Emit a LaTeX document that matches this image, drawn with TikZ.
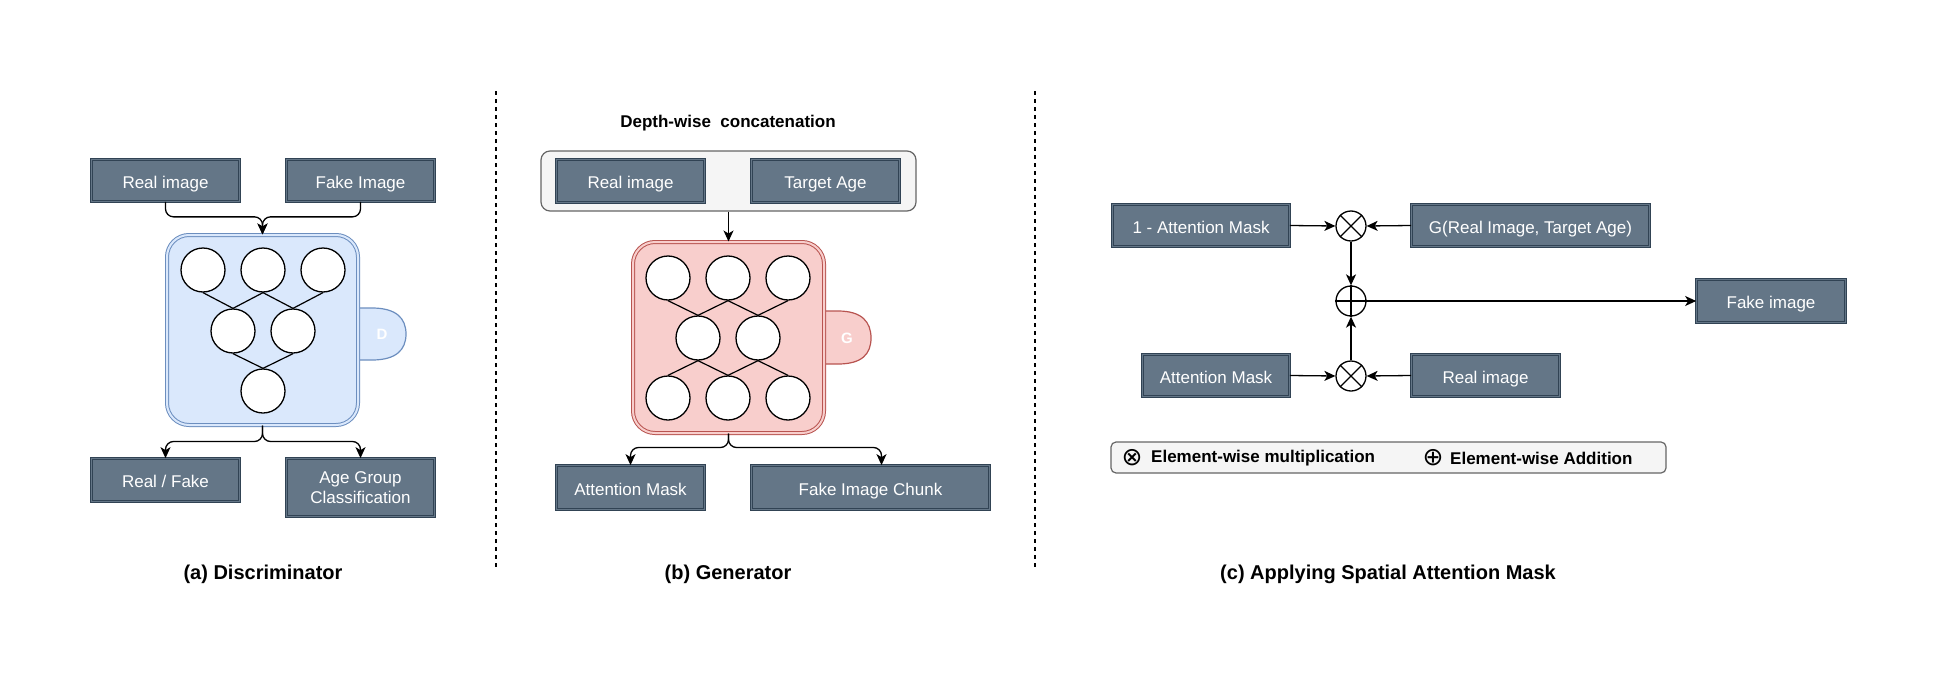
\documentclass[tikz,border=0pt]{standalone}
\usepackage{fontspec}
\setmainfont{Liberation Sans}
\newfontfamily\dejavu{DejaVu Sans}
\usetikzlibrary{arrows.meta,calc}
\definecolor{boxfill}{HTML}{647687}
\definecolor{boxline}{HTML}{314354}
\definecolor{bluefill}{HTML}{DAE8FC}
\definecolor{blueline}{HTML}{6C8EBF}
\definecolor{redfill}{HTML}{F8CECC}
\definecolor{redline}{HTML}{B85450}
\definecolor{grayfill}{HTML}{F5F5F5}
\definecolor{grayline}{HTML}{666666}
\newcommand{\boxfont}{\fontsize{17}{20.5}\selectfont}
\newcommand{\titlefont}{\fontsize{20}{24}\selectfont\bfseries}
\tikzset{
  boxbase/.style={draw=boxline, double=boxfill, fill=boxfill, line width=0.9pt,
    double distance=1.4pt, text=white, font=\boxfont, inner sep=0pt, align=center},
  box/.style 2 args={boxbase, minimum width=#1pt-3.2pt, minimum height=#2pt-3.2pt,
    text height=16pt, text depth=1pt},
  boxtwo/.style 2 args={boxbase, minimum width=#1pt-3.2pt, minimum height=#2pt-3.2pt},
  neuron/.style={circle, draw=black, fill=white, line width=1.3pt, minimum size=44pt, inner sep=0pt},
  link/.style={line width=1.2pt, draw=black},
  arr/.style={line width=1.3pt, draw=black, -{Stealth[length=11pt,width=10pt,inset=3pt]}},
  opnode/.style={circle, draw=black, fill=white, line width=1.3pt, minimum size=30pt, inner sep=0pt},
  sepline/.style={line width=1.3pt, dash pattern=on 4pt off 4pt},
  tablabel/.style={text=white, font=\fontsize{15}{18}\selectfont\bfseries},
  legtext/.style={anchor=west, inner sep=0pt, font=\fontsize{17}{20}\selectfont\bfseries},
  legsym/.style={inner sep=0pt, font=\dejavu\fontsize{25}{26}\selectfont},
  container/.style 2 args={draw=#1, double=#2, fill=#2, line width=1pt, double distance=2pt, rounded corners=22pt},
}
\begin{document}
\begin{tikzpicture}[x=1pt,y=-1pt]
\useasboundingbox[fill=white] (0,0) rectangle (1937,677);

% separators
\coordinate (s1a) at (496,91); \coordinate (s1b) at (496,570);
\coordinate (s2a) at (1035,91); \coordinate (s2b) at (1035,570);
\draw[sepline] (s1a) -- (s1b);
\draw[sepline] (s2a) -- (s2b);

% ---------------- (a) Discriminator ----------------
\draw[draw=blueline, fill=bluefill, line width=1.2pt]
  (350,308) -- (372,308) .. controls (396,308) and (406,318) .. (406,334)
  .. controls (406,350) and (396,360) .. (372,360) -- (350,360);
\node[tablabel] (dlab) at (382,334) {D};
\node[container={blueline}{bluefill}, minimum width=191pt, minimum height=190pt] (D) at (262.5,330) {};

\node[neuron] (d1) at (203,270) {};
\node[neuron] (d2) at (263,270) {};
\node[neuron] (d3) at (323,270) {};
\node[neuron] (d4) at (233,331) {};
\node[neuron] (d5) at (293,331) {};
\node[neuron] (d6) at (263,391) {};
\draw[link] (d1.south) -- (d4.north);
\draw[link] (d2.south) -- (d4.north);
\draw[link] (d2.south) -- (d5.north);
\draw[link] (d3.south) -- (d5.north);
\draw[link] (d4.south) -- (d6.north);
\draw[link] (d5.south) -- (d6.north);

\node[box={151}{45}] (dri) at (165.5,180.5) {Real image};
\node[box={151}{45}] (dfi) at (360.5,180.5) {Fake Image};
\node[box={151}{46}] (drf) at (165.5,480) {Real / Fake};
\node[boxtwo={151}{61}] (dag) at (360.5,487.5) {Age Group\\Classification};

\draw[arr, rounded corners=8pt] (dri.south) -- ++(0,15) -| (D.north);
\draw[arr, rounded corners=8pt] (dfi.south) -- ++(0,15) -| (D.north);
\draw[arr, rounded corners=8pt] (D.south) -- ++(0,16) -| (drf.north);
\draw[arr, rounded corners=8pt] (D.south) -- ++(0,16) -| (dag.north);

\node[font=\titlefont] (ta) at (263,574) {(a) Discriminator};

% ---------------- (b) Generator ----------------
\node[font=\fontsize{17}{20}\selectfont\bfseries] (dw) at (728,123) {Depth-wise\ \ concatenation};
\node[draw=grayline, fill=grayfill, line width=1.2pt, rounded corners=9pt,
  minimum width=375pt, minimum height=60pt] (gc) at (728.5,181) {};
\node[box={151}{46}] (gri) at (630.5,181) {Real image};
\node[box={151}{46}] (gta) at (825.5,181) {Target Age};

\draw[draw=redline, fill=redfill, line width=1.2pt]
  (816,311) -- (838,311) .. controls (862,311) and (871,322) .. (871,338)
  .. controls (871,354) and (862,364) .. (838,364) -- (816,364);
\node[tablabel] (glab) at (847,338) {G};
\node[container={redline}{redfill}, minimum width=191pt, minimum height=191pt] (G) at (728.5,337.5) {};

\node[neuron] (g1) at (668,278) {};
\node[neuron] (g2) at (728,278) {};
\node[neuron] (g3) at (788,278) {};
\node[neuron] (g4) at (698,338) {};
\node[neuron] (g5) at (758,338) {};
\node[neuron] (g6) at (668,398) {};
\node[neuron] (g7) at (728,398) {};
\node[neuron] (g8) at (788,398) {};
\draw[link] (g1.south) -- (g4.north);
\draw[link] (g2.south) -- (g4.north);
\draw[link] (g2.south) -- (g5.north);
\draw[link] (g3.south) -- (g5.north);
\draw[link] (g4.south) -- (g6.north);
\draw[link] (g4.south) -- (g7.north);
\draw[link] (g5.south) -- (g7.north);
\draw[link] (g5.south) -- (g8.north);

\node[box={151}{47}] (gam) at (630.5,487.5) {Attention Mask};
\node[box={241}{47}] (gfc) at (870.5,487.5) {Fake Image Chunk};

\draw[arr] (gc.south) -- (G.north);
\draw[arr, rounded corners=8pt] (G.south) -- ++(0,14) -| (gam.north);
\draw[arr, rounded corners=8pt] (G.south) -- ++(0,14) -| ([xshift=11pt]gfc.north);

\node[font=\titlefont] (tb) at (728,574) {(b) Generator};

% ---------------- (c) Spatial attention ----------------
\node[box={180}{45}] (oam) at (1201,225.5) {1 - Attention Mask};
\node[box={241}{45}] (gra) at (1530.5,225.5) {G(Real Image, Target Age)};
\node[box={152}{46}] (cfk) at (1771,301) {Fake image};
\node[box={150}{45}] (cam) at (1216,375.5) {Attention Mask};
\node[box={151}{45}] (cri) at (1485.5,375.5) {Real image};

\node[opnode] (ot1) at (1351,226) {};
\node[opnode] (op) at (1351,301) {};
\node[opnode] (ot2) at (1351,376) {};
\draw[line width=1.3pt] (ot1.north west) -- (ot1.south east) (ot1.north east) -- (ot1.south west);
\draw[line width=1.3pt] (ot2.north west) -- (ot2.south east) (ot2.north east) -- (ot2.south west);
\draw[line width=1.3pt] (op.north) -- (op.south) (op.west) -- (op.east);

\draw[arr] (oam.east) -- (ot1.west);
\draw[arr] (gra.west) -- (ot1.east);
\draw[arr] (ot1.south) -- (op.north);
\draw[arr] (ot2.north) -- (op.south);
\draw[arr] (cam.east) -- (ot2.west);
\draw[arr] (cri.west) -- (ot2.east);
\draw[arr] (op.east) -- (cfk.west);

\node[draw=grayline, fill=grayfill, line width=1.2pt, rounded corners=5pt,
  minimum width=555pt, minimum height=31pt] (leg) at (1388.5,457.5) {};
\node[legsym] (sym1) at (1132,458) {⊗};
\node[legtext] (l1) at (1151,458) {Element-wise multiplication};
\node[legsym] (sym2) at (1433,458) {⊕};
\node[legtext] (l2) at (1450,458) {Element-wise Addition};

\node[font=\titlefont] (tc) at (1388,574) {(c) Applying Spatial Attention Mask};
\end{tikzpicture}
\end{document}
